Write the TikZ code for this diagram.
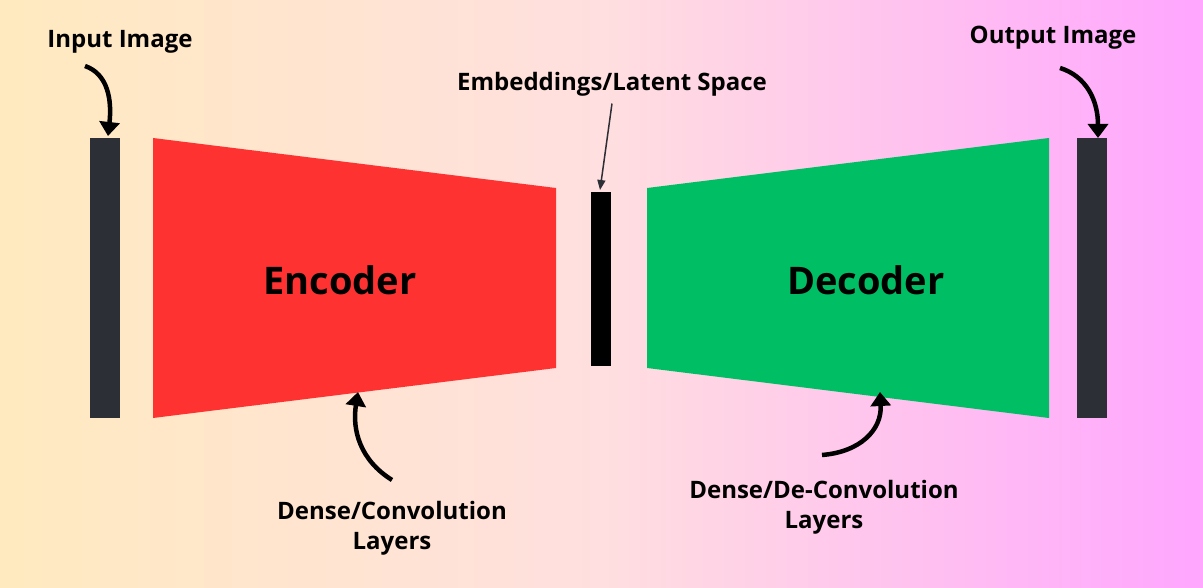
\documentclass[tikz,border=0pt]{standalone}
\usepackage{fontspec}
\setmainfont{Open Sans}
\usetikzlibrary{arrows.meta}
\definecolor{barcol}{RGB}{45,47,54}
\definecolor{enccol}{RGB}{255,50,50}
\definecolor{deccol}{RGB}{0,190,100}
\begin{document}
\begin{tikzpicture}[x=1pt,y=-1pt,
  label text/.style={font=\bfseries\fontsize{24}{30}\selectfont,align=center},
  block text/.style={font=\bfseries\fontsize{38}{44}\selectfont},
  curved arrow/.style={-{Triangle[length=14pt,width=20pt]},line width=4.5pt,black}]

  \shade[left color=yellow!35!orange!25!white,right color=magenta!35!white,
         middle color=pink!50!white,shading angle=90] (0,0) rectangle (1203,588);
  \useasboundingbox (0,0) rectangle (1203,588);

  % bars and blocks
  \fill[barcol] (90,138) rectangle (120,418);
  \fill[enccol] (153,138) -- (556,188) -- (556,368) -- (153,418) -- cycle;
  \fill[black] (591,192) rectangle (611,366);
  \fill[deccol] (647,188) -- (1049,138) -- (1049,418) -- (647,368) -- cycle;
  \fill[barcol] (1077,138) rectangle (1107,418);

  \node[block text] (enc) at (340,280) {Encoder};
  \node[block text] (dec) at (866,280) {Decoder};

  \node[label text] (in) at (120,42) {Input Image};
  \node[label text] (out) at (1053,38) {Output Image};
  \node[label text] (emb) at (612,84) {Embeddings/Latent Space};
  \node[label text] (encl) at (392,528) {Dense/Convolution\\Layers};
  \node[label text] (decl) at (824,507) {Dense/De-Convolution\\Layers};

  \coordinate (inbar) at (108,136);
  \coordinate (outbar) at (1098,138);
  \coordinate (lat) at (600,190);
  \coordinate (encb) at (358,392);
  \coordinate (decb) at (880,392);

  % pointers
  \draw[curved arrow] (85,66) .. controls (108,74) and (112,100) .. (inbar);
  \draw[curved arrow] (1060,68) .. controls (1086,76) and (1098,100) .. (outbar);
  \draw[-{Triangle[length=10pt,width=8pt]},line width=1.5pt,barcol] (emb.south) ++(0,4) -- (lat);
  \draw[curved arrow] (392,480) .. controls (360,460) and (352,430) .. (encb);
  \draw[curved arrow] (822,455) .. controls (860,452) and (882,430) .. (decb);
\end{tikzpicture}
\end{document}
